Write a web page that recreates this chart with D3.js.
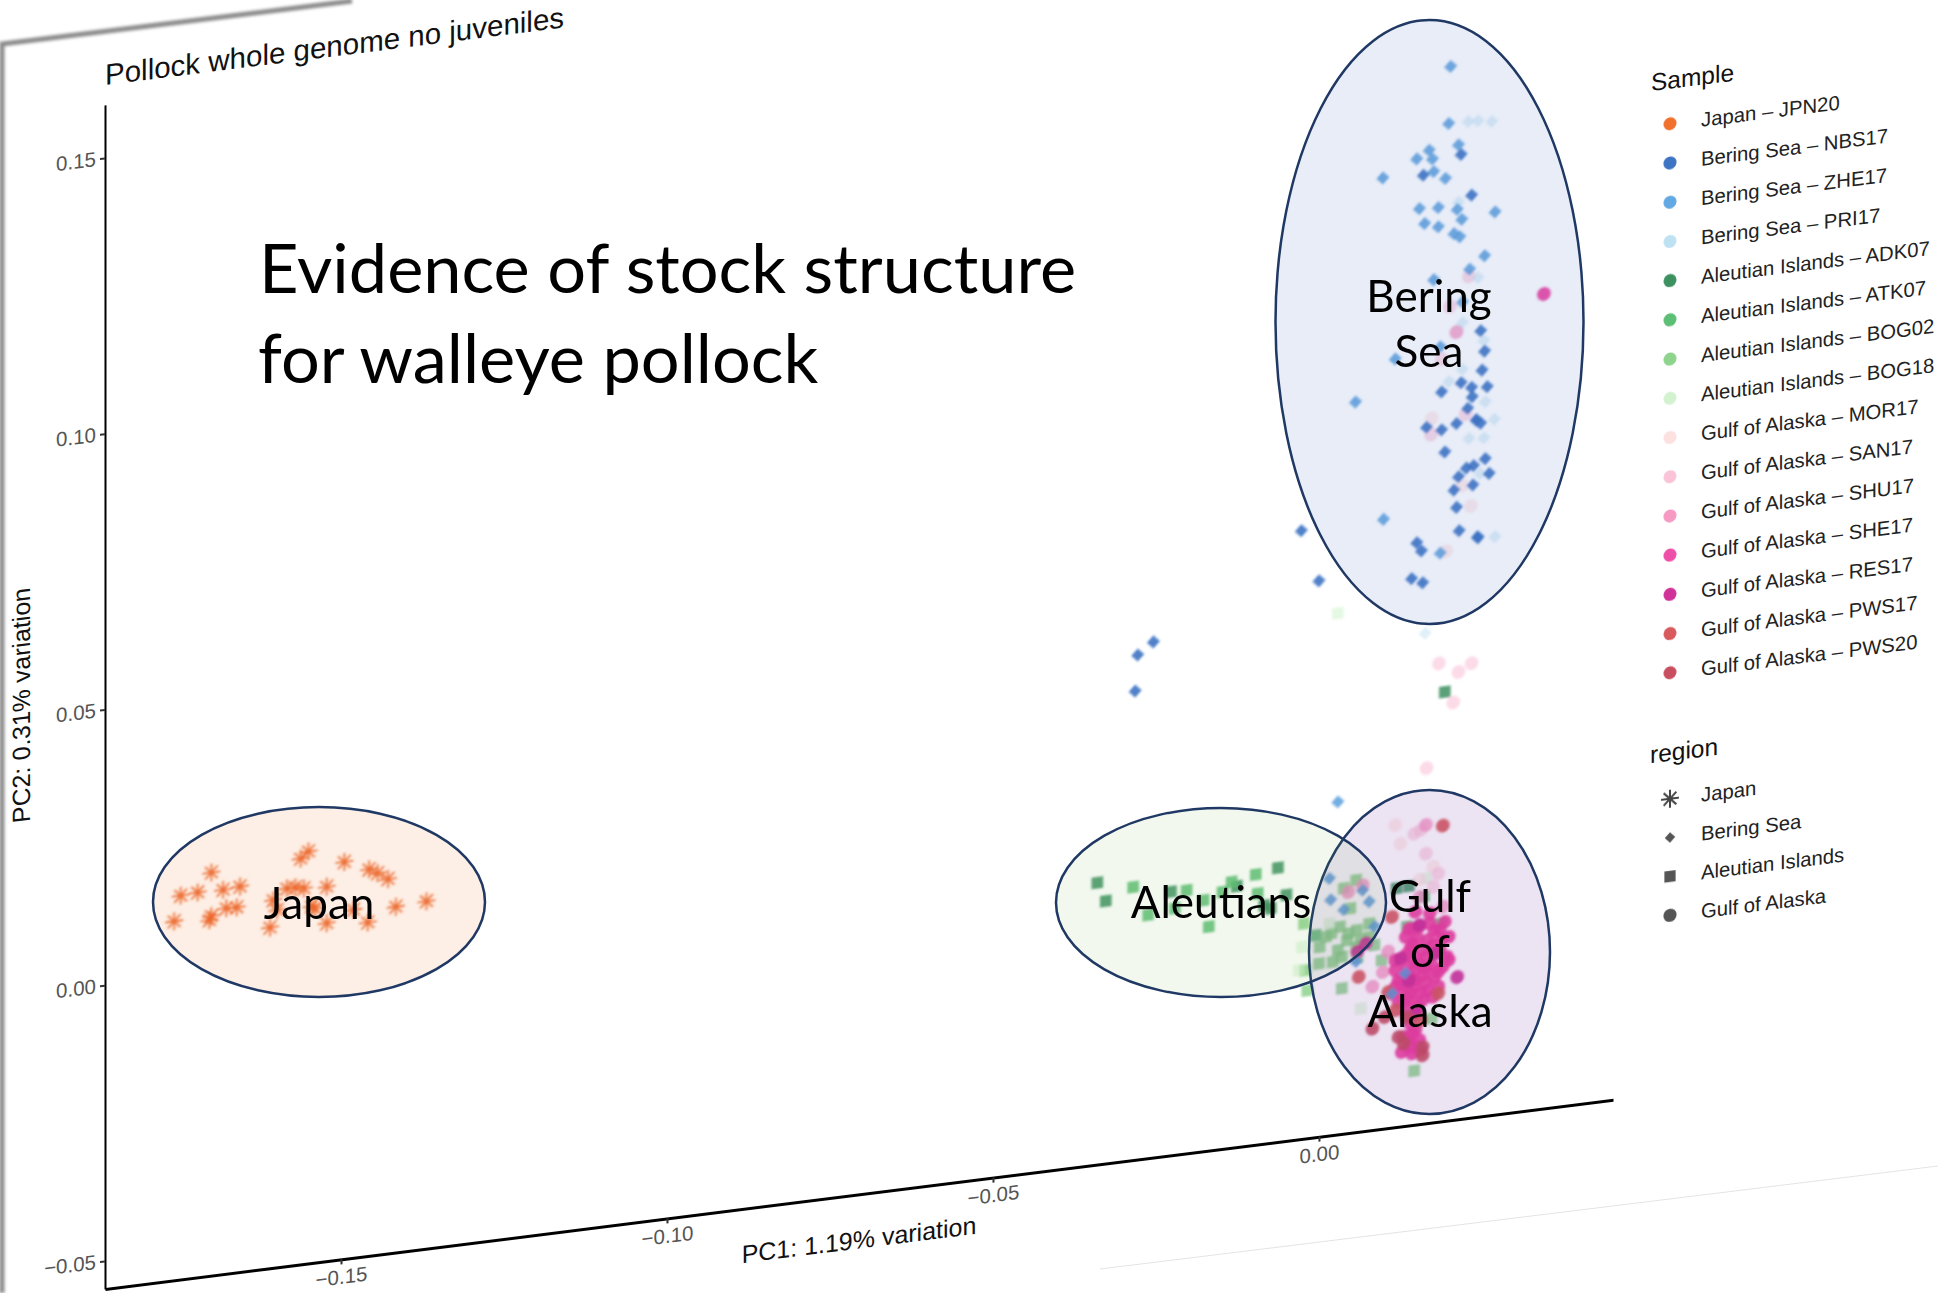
<!DOCTYPE html>
<html>
<head>
<meta charset="utf-8">
<script src="https://cdn.jsdelivr.net/npm/d3@7"></script>
<style>
    body { margin: 0; background: #fff; }
    svg { display: block; }
    text { font-family: "Liberation Sans", sans-serif; }
    .overlay text { font-family: Lato, sans-serif; fill: #000; }
</style>
</head>
<body>
<svg id="chart" width="1938" height="1293"></svg>
<script>
// PC1, PC2, one list per sample
const japanJPN20 = [[-.1746,.0145],[-.1720,.0147],[-.1699,.0180],[-.1681,.0146],[-.1655,.0148],[-.1756,.0100],[-.1702,.0094],[-.1699,.0101],[-.1676,.0112],[-.1660,.0111],[-.1609,.0067],[-.1550,.0196],[-.1562,.0185],[-.1495,.0169],[-.1457,.0150],[-.1444,.0141],[-.1428,.0128],[-.1522,.0128],[-.1557,.0130],[-.1570,.0134],[-.1583,.0134],[-.1604,.0116],[-.1540,.0091],[-.1545,.0096],[-.1522,.0062],[-.1481,.0080],[-.1459,.0054],[-.1416,.0076],[-.1369,.0079],[-.1598,.0097]];
const beringNBS17 = [[.0218,.1198],[.0160,.1169],[.0234,.1122],[.0248,.0874],[.0254,.0836],[.0250,.0802],[.0218,.0784],[.0258,.0771],[.0234,.0773],[.0235,.0756],[.0188,.0772],[.0228,.0736],[.0211,.0711],[.0242,.0712],[.0241,.0714],[.0248,.0706],[.0165,.0711],[.0188,.0703],[.0193,.0662],[.0255,.0641],[.0237,.0631],[.0226,.0628],[.0261,.0613],[.0214,.0614],[.0236,.0596],[.0207,.0591],[.0211,.0559],[.0215,.0516],[.0244,.0499],[.0243,.0501],[.0150,.0504],[.0157,.0488],[.0142,.0440],[.0159,.0430],[-.0027,.0552],[.0000,.0457],[-.0254,.0384],[-.0278,.0364],[-.0282,.0299]];
const beringZHE17 = [[.0202,.1360],[.0199,.1257],[.0214,.1216],[.0169,.1213],[.0150,.1200],[.0174,.1196],[.0176,.1173],[.0194,.1158],[.0098,.1173],[.0154,.1109],[.0183,.1107],[.0212,.1099],[.0270,.1086],[.0219,.1080],[.0162,.1081],[.0183,.1072],[.0207,.1056],[.0216,.1049],[.0254,.1009],[.0231,.0988],[.0176,.0977],[.0056,.0773],[.0099,.0554],[.0186,.0480],[.0220,.0930],[.0186,.0854],[.0117,.0842],[.0029,.0052],[.0016,-.0085],[.0018,-.0124],[.0038,-.0145],[.0077,-.0136],[.0067,-.0114],[.0085,-.0182],[.0057,-.0242],[.0132,-.0274],[.0112,-.0308]];
const beringPRI17 = [[.0163,.0338],[.0244,.1255],[.0265,.1251],[.0229,.1256],[.0255,.0744],[.0269,.0710],[.0230,.0681],[.0253,.0679],[.0270,.0497],[.0199,.0789],[.0247,.0615],[.0214,.1112],[.0244,.0971],[.0220,.0893],[.0253,.0855],[.0220,.0808]];
const aleutianADK07 = [[-.0340,-.0040],[-.0327,-.0075],[-.0063,-.0054],[-.0050,-.0105],[-.0126,-.0078],[-.0084,-.0119],[-.0074,-.0126],[-.0227,-.0073],[.0119,-.0118],[.0138,-.0117],[.0193,.0227]];
const aleutianATK07 = [[-.0097,-.0061],[-.0285,-.0056],[-.0203,-.0074],[-.0177,-.0096],[-.0134,-.0069],[-.0148,-.0085],[-.0094,-.0096],[-.0221,-.0104],[-.0262,-.0110],[-.0169,-.0145],[.0135,-.0190],[.0187,-.0192],[.0161,-.0139],[-.0005,-.0185]];
const aleutianBOG02 = [[-.0023,-.0161],[.0019,-.0185],[.0043,-.0201],[.0058,-.0185],[.0077,-.0200],[.0000,-.0237],[.0021,-.0237],[.0035,-.0287],[-.0018,-.0283],[.0085,-.0216],[.0038,-.0106],[.0057,-.0094],[.0048,-.0144],[.0029,-.0217],[.0057,-.0215],[.0096,-.0245],[.0146,-.0453],[.0173,-.0362],[.0011,-.0190],[.0032,-.0175],[.0064,-.0204],[.0077,-.0176],[.0001,-.0207],[.0035,-.0230],[.0059,-.0236],[-.0021,-.0246],[.0045,-.0189]];
const aleutianBOG18 = [[.0064,-.0328],[.0016,-.0167],[-.0031,-.0244],[-.0026,-.0203],[.0029,.0394],[.0164,-.0107]];
const gulfMOR17 = [[.0173,.0726],[.0233,.0558],[.0220,.0597],[.0195,.0482],[.0117,-.0003],[.0125,-.0038],[.0175,-.0087],[.0154,-.0108]];
const gulfSAN17 = [[.0201,.0925],[.0230,.0975],[.0188,.0831],[.0225,.0726],[.0172,.0697],[.0184,.0280],[.0214,.0260],[.0234,.0273],[.0206,.0206],[.0165,.0093],[.0156,-.0018],[.0146,-.0023],[.0164,-.0062],[.0183,-.0101],[.0175,-.0124]];
const gulfSHU17 = [[.0211,.0877],[.0164,-.0010],[.0154,-.0139],[.0190,-.0162],[.0067,-.0105],[.0045,-.0114],[.0082,-.0291],[.0106,-.0231],[.0098,-.0267]];
const gulfSHE17 = [[.0345,.0926],[.0138,-.0194],[.0154,-.0193],[.0170,-.0189],[.0185,-.0204],[.0133,-.0208],[.0151,-.0214],[.0167,-.0219],[.0188,-.0222],[.0199,-.0218],[.0140,-.0230],[.0159,-.0236],[.0177,-.0242],[.0196,-.0254],[.0117,-.0266],[.0135,-.0263],[.0154,-.0260],[.0172,-.0265],[.0190,-.0271],[.0122,-.0285],[.0140,-.0282],[.0159,-.0282],[.0177,-.0288],[.0112,-.0308],[.0130,-.0305],[.0148,-.0301],[.0167,-.0310],[.0183,-.0306],[.0122,-.0324],[.0140,-.0324],[.0159,-.0327],[.0175,-.0323],[.0133,-.0344],[.0151,-.0350],[.0140,-.0366],[.0130,-.0389],[.0143,-.0385],[.0154,-.0399],[.0127,-.0416],[.0143,-.0421],[.0156,-.0417],[.0148,-.0165],[.0170,-.0171],[.0193,-.0190],[.0199,-.0260],[.0146,-.0249],[.0164,-.0249],[.0130,-.0280],[.0146,-.0195],[.0177,-.0203],[.0143,-.0222],[.0175,-.0229],[.0185,-.0240],[.0133,-.0241],[.0148,-.0268],[.0164,-.0270],[.0183,-.0279],[.0148,-.0289],[.0164,-.0295],[.0135,-.0296],[.0117,-.0297],[.0156,-.0314],[.0140,-.0312],[.0133,-.0323],[.0151,-.0338],[.0138,-.0408],[.0148,-.0410],[.0138,-.0393],[.0148,-.0380],[.0117,-.0248]];
const gulfRES17 = [[.0125,-.0246],[.0212,-.0293],[.0072,-.0211],[.0059,-.0224],[.0154,-.0190],[.0180,-.0245],[.0138,-.0288],[.0148,-.0350]];
const gulfPWS17 = [[.0190,-.0015],[.0061,-.0270],[.0112,-.0169],[.0106,-.0304],[.0183,-.0318],[.0117,-.0339],[.0156,-.0363]];
const gulfPWS20 = [[.0101,-.0349],[.0082,-.0367],[.0122,-.0388],[.0159,-.0412],[.0159,-.0427],[.0130,-.0401],[.0135,-.0354]];

const sampleNames = ["Japan \u2013 JPN20", "Bering Sea \u2013 NBS17", "Bering Sea \u2013 ZHE17", "Bering Sea \u2013 PRI17", "Aleutian Islands \u2013 ADK07", "Aleutian Islands \u2013 ATK07", "Aleutian Islands \u2013 BOG02", "Aleutian Islands \u2013 BOG18", "Gulf of Alaska \u2013 MOR17", "Gulf of Alaska \u2013 SAN17", "Gulf of Alaska \u2013 SHU17", "Gulf of Alaska \u2013 SHE17", "Gulf of Alaska \u2013 RES17", "Gulf of Alaska \u2013 PWS17", "Gulf of Alaska \u2013 PWS20"];
const sampleValues = [japanJPN20, beringNBS17, beringZHE17, beringPRI17, aleutianADK07, aleutianATK07, aleutianBOG02, aleutianBOG18, gulfMOR17, gulfSAN17, gulfSHU17, gulfSHE17, gulfRES17, gulfPWS17, gulfPWS20];
const sampleRegions = [0, 1, 1, 1, 2, 2, 2, 2, 3, 3, 3, 3, 3, 3, 3];
const regionNames = ["Japan", "Bering Sea", "Aleutian Islands", "Gulf of Alaska"];
const xTicks = [-0.15, -0.10, -0.05, 0.00];
const yTicks = [-0.05, 0.00, 0.05, 0.10, 0.15];

const sampleColors = ["#f1702f", "#3d74c4", "#62a9e4", "#bfe2f2", "#3c9160", "#5dbe76", "#8ed48c", "#d3f3d0", "#fde0e0", "#fac3d8", "#f69ac4", "#ee4fa8", "#cf3298", "#d85a5c", "#c94f60"];
const markColors = ["#ec5f22", "#3d74c4", "#5a9fdc", "#bfe2f2", "#3c9160", "#5dbe76", "#86cf86", "#d3f3d0", "#fde0e0", "#fac3d8", "#f69ac4", "#ee3f9f", "#cf3298", "#d85a5c", "#c94f60"];
const markOpacity = [0.9, 0.9, 0.85, 0.5, 0.85, 0.85, 0.8, 0.6, 0.6, 0.6, 0.8, 0.9, 0.9, 0.9, 0.9];
// aleutians first, then gulf, then bering and japan on top
const drawOrder = [4, 5, 6, 7, 8, 9, 10, 11, 12, 13, 14, 3, 2, 1, 0];

const SHEAR = 0.1254; // the slide is photographed at a slant
const svg = d3.select("#chart");

// blur for the washed out look of the marks
const defs = svg.append("defs");
defs.append("filter").attr("id", "soft").append("feGaussianBlur").attr("stdDeviation", 0.9);
defs.append("filter").attr("id", "key").append("feGaussianBlur").attr("stdDeviation", 0.6);
defs.append("filter").attr("id", "edge")
    .attr("x", "-5%").attr("y", "-5%").attr("width", "110%").attr("height", "110%")
    .append("feGaussianBlur").attr("stdDeviation", 1.6);

// page edge and shadow
svg.append("path")
    .attr("d", "M2,1293 L2,44 L352,1")
    .attr("fill", "none")
    .attr("stroke", "#8c8c8c")
    .attr("stroke-width", 5)
    .attr("filter", "url(#edge)");
svg.append("path")
    .attr("d", "M1100,1269 L1938,1166")
    .attr("fill", "none")
    .attr("stroke", "#e4e4e4")
    .attr("stroke-width", 1);

// asterisk of ggplot shape 8, and a diamond for shape 18
const symbolStar = {
    draw(ctx, size) {
        const r = Math.sqrt(size) / 2;
        const d = r * Math.SQRT1_2;
        ctx.moveTo(-r, 0); ctx.lineTo(r, 0);
        ctx.moveTo(0, -r); ctx.lineTo(0, r);
        ctx.moveTo(-d, -d); ctx.lineTo(d, d);
        ctx.moveTo(-d, d); ctx.lineTo(d, -d);
    }
};
const symbolRhomb = {
    draw(ctx, size) {
        const r = Math.sqrt(size) / 2;
        ctx.moveTo(0, -r); ctx.lineTo(r, 0); ctx.lineTo(0, r); ctx.lineTo(-r, 0);
        ctx.closePath();
    }
};
const regionSymbols = [
    d3.symbol().type(symbolStar).size(320),
    d3.symbol().type(symbolRhomb).size(170),
    d3.symbol().type(d3.symbolSquare).size(135),
    d3.symbol().type(d3.symbolCircle).size(150)
];
const legendSymbols = [
    d3.symbol().type(symbolStar).size(320),
    d3.symbol().type(symbolRhomb).size(110),
    d3.symbol().type(d3.symbolSquare).size(125),
    d3.symbol().type(d3.symbolCircle).size(135)
];

const plot = svg.append("g")
    .attr("transform", `matrix(1,${-SHEAR},0,1,105,0)`);

const x = d3.scaleLinear().domain([-0.1862, 0.0451]).range([0, 1508]);
const y = d3.scaleLinear().domain([-0.0551, 0.1596]).range([1289, 105]);
const fmt = d => d3.format(".2f")(d).replace("-", "\u2212");

const xAxis = plot.append("g")
    .attr("transform", "translate(0,1289)")
    .call(d3.axisBottom(x).tickValues(xTicks).tickFormat(fmt).tickSize(5).tickPadding(5).tickSizeOuter(0));
const yAxis = plot.append("g")
    .call(d3.axisLeft(y).tickValues(yTicks).tickFormat(fmt).tickSize(5).tickPadding(4).tickSizeOuter(0));
xAxis.select(".domain").attr("stroke", "#000").attr("stroke-width", 3);
yAxis.select(".domain").attr("stroke", "#000").attr("stroke-width", 2);
[xAxis, yAxis].forEach(axis => {
    axis.selectAll(".tick line").attr("stroke", "#333").attr("stroke-width", 2);
    axis.selectAll(".tick text")
        .attr("fill", "#555")
        .style("font-family", '"Liberation Sans", sans-serif')
        .style("font-size", "20.5px");
});

plot.append("text")
    .attr("x", 0).attr("y", 85)
    .attr("font-size", 29.5)
    .attr("fill", "#111")
    .text("Pollock whole genome no juveniles");
plot.append("text")
    .attr("x", 754).attr("y", 1343)
    .attr("text-anchor", "middle")
    .attr("font-size", 25)
    .attr("fill", "#111")
    .text("PC1: 1.19% variation");
plot.append("text")
    .attr("transform", "translate(-75,695) rotate(-90)")
    .attr("text-anchor", "middle")
    .attr("font-size", 25)
    .attr("fill", "#111")
    .text("PC2: 0.31% variation");

// points
const points = plot.append("g").attr("filter", "url(#soft)");
drawOrder.forEach(s => {
    const star = sampleRegions[s] === 0;
    points.append("g")
        .selectAll("path")
        .data(sampleValues[s])
        .join("path")
        .attr("transform", d => `translate(${x(d[0])},${y(d[1])})`)
        .attr("d", regionSymbols[sampleRegions[s]])
        .attr("fill", star ? "none" : markColors[s])
        .attr("stroke", star ? markColors[s] : "none")
        .attr("stroke-width", star ? 1.8 : 0)
        .attr("opacity", markOpacity[s]);
});

// legends
const legend = plot.append("g").attr("transform", "translate(1565,0)");
legend.append("text")
    .attr("x", -19).attr("y", 285)
    .attr("font-size", 24.5)
    .attr("fill", "#111")
    .text("Sample");
const sampleRow = d3.scaleLinear().domain([0, sampleNames.length - 1]).range([320, 869]);
legend.append("g").attr("filter", "url(#key)")
    .selectAll("circle")
    .data(sampleNames)
    .join("circle")
    .attr("cy", (d, i) => sampleRow(i))
    .attr("r", 6.5)
    .attr("fill", (d, i) => sampleColors[i]);
legend.append("g")
    .selectAll("text")
    .data(sampleNames)
    .join("text")
    .attr("x", 31)
    .attr("y", (d, i) => sampleRow(i) + 7)
    .attr("font-size", 20.3)
    .attr("fill", "#222")
    .text(d => d);

legend.append("text")
    .attr("x", -20).attr("y", 957)
    .attr("font-size", 24.5)
    .attr("fill", "#111")
    .text("region");
const regionRow = d3.scaleLinear().domain([0, regionNames.length - 1]).range([995, 1111.5]);
legend.append("g").attr("filter", "url(#key)")
    .selectAll("path")
    .data(regionNames)
    .join("path")
    .attr("transform", (d, i) => `translate(0,${regionRow(i)})`)
    .attr("d", (d, i) => legendSymbols[i]())
    .attr("fill", (d, i) => i === 0 ? "none" : "#555")
    .attr("stroke", (d, i) => i === 0 ? "#444" : "none")
    .attr("stroke-width", 2);
legend.append("g")
    .selectAll("text")
    .data(regionNames)
    .join("text")
    .attr("x", 31)
    .attr("y", (d, i) => regionRow(i) + 7)
    .attr("font-size", 20.3)
    .attr("fill", "#222")
    .text(d => d);

// slide annotations sit flat on the picture, not sheared
const overlayEllipses = [
    { cx: 1429.5, cy: 952, rx: 120.5, ry: 162, fill: "#7030a0", alpha: 0.13 },
    { cx: 1221, cy: 902.5, rx: 165, ry: 94.5, fill: "#70ad47", alpha: 0.09 },
    { cx: 319, cy: 902, rx: 166, ry: 95, fill: "#ed7d31", alpha: 0.12 },
    { cx: 1429.5, cy: 322, rx: 154, ry: 302, fill: "#4472c4", alpha: 0.125 }
];
const overlayLabels = [
    { text: "Evidence of stock structure", x: 259, y: 293, size: 68.5, anchor: "start" },
    { text: "for walleye pollock", x: 258, y: 383, size: 68.5, anchor: "start" },
    { text: "Bering", x: 1429, y: 312, size: 44, anchor: "middle" },
    { text: "Sea", x: 1429, y: 367, size: 44, anchor: "middle" },
    { text: "Japan", x: 319, y: 919, size: 44, anchor: "middle" },
    { text: "Aleutians", x: 1221, y: 918, size: 44, anchor: "middle" },
    { text: "Gulf", x: 1430, y: 912, size: 44, anchor: "middle" },
    { text: "of", x: 1430, y: 967, size: 44, anchor: "middle" },
    { text: "Alaska", x: 1430, y: 1027, size: 44, anchor: "middle" }
];
const overlay = svg.append("g").attr("class", "overlay");
overlay.selectAll("ellipse")
    .data(overlayEllipses)
    .join("ellipse")
    .attr("cx", d => d.cx).attr("cy", d => d.cy)
    .attr("rx", d => d.rx).attr("ry", d => d.ry)
    .attr("fill", d => d.fill)
    .attr("fill-opacity", d => d.alpha)
    .attr("stroke", "#1f3864")
    .attr("stroke-width", 2.5);
overlay.selectAll("text")
    .data(overlayLabels)
    .join("text")
    .attr("x", d => d.x).attr("y", d => d.y)
    .attr("font-size", d => d.size)
    .attr("text-anchor", d => d.anchor)
    .text(d => d.text);
</script>
</body>
</html>
